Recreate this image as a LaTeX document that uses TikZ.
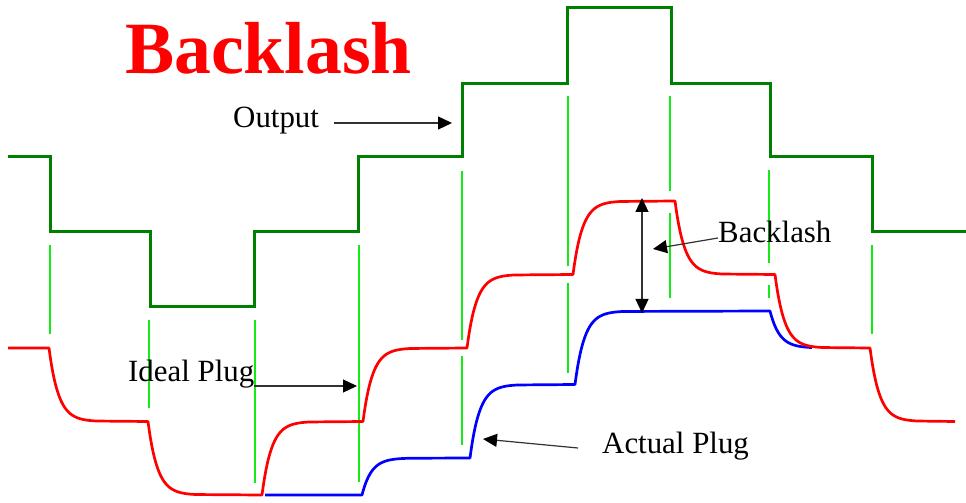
\documentclass[tikz,border=0pt]{standalone}
\usepackage{fontspec}
\setmainfont{Liberation Serif}
\usetikzlibrary{arrows.meta}
\definecolor{outgreen}{RGB}{0,128,0}
\definecolor{guidegreen}{RGB}{20,235,20}
\definecolor{pointergray}{RGB}{50,50,50}
\begin{document}
\begin{tikzpicture}[x=1bp, y=-1bp,
  output/.style={draw=outgreen, line width=3bp},
  guide/.style={draw=guidegreen, line width=1.5bp},
  ideal/.style={draw=red, line width=2.7bp, line join=round, samples=40, domain=0:48},
  actual/.style={draw=blue, line width=2.7bp, line join=round, samples=40, domain=0:48},
  pointer/.style={draw=pointergray, line width=1.2bp, -{Triangle[length=14bp, width=13bp, color=black, fill=black]}},
  gauge/.style={draw=pointergray, line width=1.2bp, {Triangle[length=14bp, width=13bp, color=black, fill=black]}-{Triangle[length=14bp, width=13bp, color=black, fill=black]}},
  textlabel/.style={inner sep=0, font=\fontsize{31}{31}\selectfont},
  headline/.style={inner sep=0, text=red, font=\fontsize{74}{74}\selectfont\bfseries}]
\useasboundingbox (0,0) rectangle (966,503);
\node[headline, anchor=base west] (title) at (125,74) {Backlash};
% output staircase
\draw[output] (8,157) -- (50,157) -- (50,232) -- (150,232) -- (150,307) -- (254,307) -- (254,232) -- (358,232) -- (358,157) -- (462,157) -- (462,84) -- (567,84) -- (567,8) -- (671,8) -- (671,84) -- (770,84) -- (770,157) -- (872,157) -- (872,232) -- (966,232);
% guide lines
\draw[guide] (50,245) -- (50,334);
\draw[guide] (149,320) -- (149,408);
\draw[guide] (255,320) -- (255,483);
\draw[guide] (359,245) -- (359,482);
\draw[guide] (462,171) -- (462,340);
\draw[guide] (462,356) -- (462,445);
\draw[guide] (568,96) -- (568,266);
\draw[guide] (568,283) -- (568,373);
\draw[guide] (670,96) -- (670,191);
\draw[guide] (670,213) -- (670,298);
\draw[guide] (769,170) -- (769,263);
\draw[guide] (769,285) -- (769,298);
\draw[guide] (872,245) -- (872,334);
% actual plug
\draw[actual] (265,495) -- (362,495)
  -- plot ({362+\x},{495-37*(1-exp(-\x/9.5))}) -- (470,458)
  -- plot ({470+\x},{458-73.5*(1-exp(-\x/9.5))}) -- (575,384.5)
  -- plot ({575+\x},{384.5-73.5*(1-exp(-\x/9.5))}) -- (770,311)
  -- plot[domain=0:42] ({770+\x},{311+37*(1-exp(-\x/9.5))});
% ideal plug
\draw[ideal] (8,348) -- (49,348)
  -- plot ({49+\x},{348+73.5*(1-exp(-\x/9.5))}) -- (148,421.5)
  -- plot ({148+\x},{421.5+73.5*(1-exp(-\x/9.5))}) -- (262,495)
  -- plot ({262+\x},{495-73.5*(1-exp(-\x/9.5))}) -- (363,421.5)
  -- plot ({363+\x},{421.5-73.5*(1-exp(-\x/9.5))}) -- (467,348)
  -- plot ({467+\x},{348-73.5*(1-exp(-\x/9.5))}) -- (573,274.5)
  -- plot ({573+\x},{274.5-73.5*(1-exp(-\x/9.5))}) -- (675,201)
  -- plot ({675+\x},{201+73.5*(1-exp(-\x/9.5))}) -- (775,274.5)
  -- plot ({775+\x},{274.5+73.5*(1-exp(-\x/9.5))}) -- (870,348)
  -- plot ({870+\x},{348+73.5*(1-exp(-\x/9.5))}) -- (955,421.5);
% labels
\node[textlabel, anchor=base west] (output) at (233,128) {Output};
\node[textlabel, anchor=base west] (ideal) at (128,382) {Ideal Plug};
\node[textlabel, anchor=base west] (backnote) at (718,243) {Backlash};
\node[textlabel, anchor=base west] (actualnote) at (602,453) {Actual Plug};
\coordinate (outtip) at (452,123);
\coordinate (idealtip) at (357,386);
\coordinate (backtip) at (653,249);
\coordinate (actualtip) at (483,439);
\coordinate (gaptop) at (642,198);
\coordinate (gapbot) at (642,313);
\draw[pointer, shorten <=15bp] (output.east |- outtip) -- (outtip);
\draw[pointer] (ideal.east |- idealtip) -- (idealtip);
\draw[pointer] ([yshift=5bp]backnote.base west) -- (backtip);
\draw[pointer] ([xshift=-24bp, yshift=5bp]actualnote.base west) -- (actualtip);
\draw[gauge] (gaptop) -- (gapbot);
\end{tikzpicture}
\end{document}
